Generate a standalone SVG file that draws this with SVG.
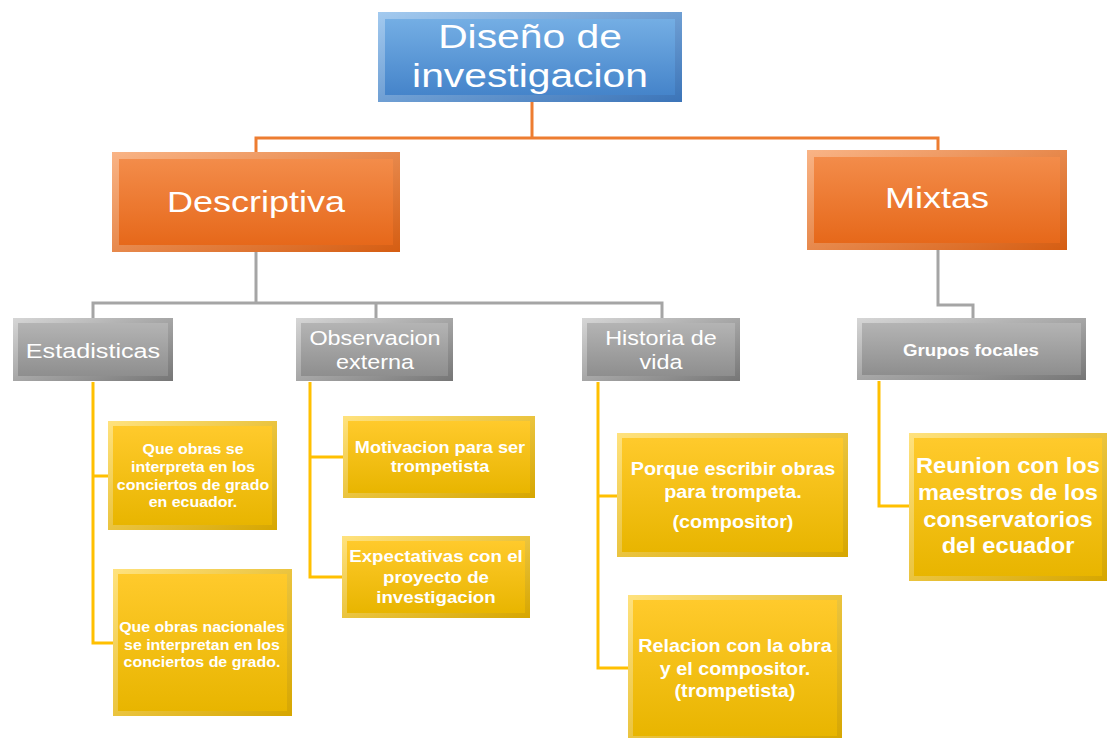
<svg xmlns="http://www.w3.org/2000/svg" width="1109" height="738" viewBox="0 0 1109 738">
<defs>
<linearGradient id="blueMain" x1="0" y1="0" x2="0" y2="1"><stop offset="0" stop-color="#74aee4"/><stop offset="1" stop-color="#4584ca"/></linearGradient>
<linearGradient id="blueFrame" x1="0" y1="0" x2="1" y2="1"><stop offset="0" stop-color="#a3caef"/><stop offset="1" stop-color="#3b74b8"/></linearGradient>
<linearGradient id="orangeMain" x1="0" y1="0" x2="0" y2="1"><stop offset="0" stop-color="#f38c4a"/><stop offset="1" stop-color="#e6681a"/></linearGradient>
<linearGradient id="orangeFrame" x1="0" y1="0" x2="1" y2="1"><stop offset="0" stop-color="#f9b486"/><stop offset="1" stop-color="#d55d12"/></linearGradient>
<linearGradient id="grayMain" x1="0" y1="0" x2="0" y2="1"><stop offset="0" stop-color="#b4b4b4"/><stop offset="1" stop-color="#8e8e8e"/></linearGradient>
<linearGradient id="grayFrame" x1="0" y1="0" x2="1" y2="1"><stop offset="0" stop-color="#d6d6d6"/><stop offset="1" stop-color="#767676"/></linearGradient>
<linearGradient id="yellowMain" x1="0" y1="0" x2="0" y2="1"><stop offset="0" stop-color="#ffca2c"/><stop offset="1" stop-color="#e8b500"/></linearGradient>
<linearGradient id="yellowFrame" x1="0" y1="0" x2="1" y2="1"><stop offset="0" stop-color="#ffe27e"/><stop offset="1" stop-color="#d6a600"/></linearGradient>
</defs>
<style>
.t{font-family:"Liberation Sans",Arial,sans-serif;fill:#ffffff;text-anchor:middle}
.b{font-weight:bold}
.co{fill:none;stroke:#ed7d31;stroke-width:3}
.cg{fill:none;stroke:#a5a5a5;stroke-width:3}
.cy{fill:none;stroke:#ffc000;stroke-width:3}
</style>
<rect width="1109" height="738" fill="#ffffff"/>
<g id="connectors">
<path class="co" d="M532,102 V138 M256,152 V138 H938 V150"/>
<path class="cg" d="M256,252 V303 M93,318 V303 H662 V318 M376,303 V318 M938,250 V305 H973 V318"/>
<path class="cy" d="M93,382 V643 H113 M93,476 H108 M310,382 V577 H342 M310,457 H343 M598,382 V668 H628 M598,496 H617 M879,381 V506 H909"/>
</g>
<g id="n-diseno">
<rect x="378" y="12" width="304" height="90" fill="url(#blueFrame)"/>
<rect x="385" y="19" width="290" height="76" fill="url(#blueMain)"/>
<g class="t" font-size="34" transform="matrix(1.2 0 0 1 -106 0)">
<text x="530" y="48">Diseño de</text>
<text x="530" y="87">investigacion</text>
</g>
</g>
<g id="n-descriptiva">
<rect x="112" y="152" width="288" height="100" fill="url(#orangeFrame)"/>
<rect x="119" y="159" width="274" height="86" fill="url(#orangeMain)"/>
<text class="t" font-size="30" x="256" y="212" transform="matrix(1.2 0 0 1 -51.2 0)">Descriptiva</text>
</g>
<g id="n-mixtas">
<rect x="807" y="150" width="260" height="100" fill="url(#orangeFrame)"/>
<rect x="814" y="157" width="246" height="86" fill="url(#orangeMain)"/>
<text class="t" font-size="30" x="937" y="208" transform="matrix(1.2 0 0 1 -187.4 0)">Mixtas</text>
</g>
<g id="n-estadisticas">
<rect x="13" y="318" width="160" height="63" fill="url(#grayFrame)"/>
<rect x="18" y="323" width="150" height="53" fill="url(#grayMain)"/>
<text class="t" font-size="21" x="93" y="358" transform="matrix(1.2 0 0 1 -18.6 0)">Estadisticas</text>
</g>
<g id="n-observacion">
<rect x="296" y="318" width="157" height="63" fill="url(#grayFrame)"/>
<rect x="301" y="323" width="147" height="53" fill="url(#grayMain)"/>
<g class="t" font-size="19.5" transform="matrix(1.2 0 0 1 -75 0)">
<text x="375" y="345">Observacion</text>
<text x="375" y="369">externa</text>
</g>
</g>
<g id="n-historia">
<rect x="582" y="318" width="158" height="63" fill="url(#grayFrame)"/>
<rect x="587" y="323" width="148" height="53" fill="url(#grayMain)"/>
<g class="t" font-size="19.5" transform="matrix(1.2 0 0 1 -132.2 0)">
<text x="661" y="345">Historia de</text>
<text x="661" y="369">vida</text>
</g>
</g>
<g id="n-grupos">
<rect x="857" y="318" width="229" height="62" fill="url(#grayFrame)"/>
<rect x="862" y="323" width="219" height="52" fill="url(#grayMain)"/>
<text class="t b" font-size="17" x="971" y="356" transform="matrix(1.1 0 0 1 -97.1 0)">Grupos focales</text>
</g>
<g id="n-que-obras">
<rect x="108" y="421" width="169" height="109" fill="url(#yellowFrame)"/>
<rect x="113" y="426" width="159" height="99" fill="url(#yellowMain)"/>
<g class="t b" font-size="14.5" transform="matrix(1.1 0 0 1 -19.3 0)">
<text x="193" y="454">Que obras se</text>
<text x="193" y="472">interpreta en los</text>
<text x="193" y="490">conciertos de grado</text>
<text x="193" y="507">en ecuador.</text>
</g>
</g>
<g id="n-nacionales">
<rect x="113" y="569" width="179" height="147" fill="url(#yellowFrame)"/>
<rect x="118" y="574" width="169" height="137" fill="url(#yellowMain)"/>
<g class="t b" font-size="14.5" transform="matrix(1.1 0 0 1 -20.2 0)">
<text x="202" y="632">Que obras nacionales</text>
<text x="202" y="650">se interpretan en los</text>
<text x="202" y="667">conciertos de grado.</text>
</g>
</g>
<g id="n-motivacion">
<rect x="343" y="416" width="192" height="82" fill="url(#yellowFrame)"/>
<rect x="348" y="421" width="182" height="72" fill="url(#yellowMain)"/>
<g class="t b" font-size="16.5" transform="matrix(1.1 0 0 1 -44 0)">
<text x="440" y="453">Motivacion para ser</text>
<text x="440" y="472">trompetista</text>
</g>
</g>
<g id="n-expectativas">
<rect x="342" y="536" width="188" height="82" fill="url(#yellowFrame)"/>
<rect x="347" y="541" width="178" height="72" fill="url(#yellowMain)"/>
<g class="t b" font-size="17" transform="matrix(1.1 0 0 1 -43.6 0)">
<text x="436" y="562">Expectativas con el</text>
<text x="436" y="583">proyecto de</text>
<text x="436" y="603">investigacion</text>
</g>
</g>
<g id="n-porque">
<rect x="617" y="433" width="231" height="124" fill="url(#yellowFrame)"/>
<rect x="622" y="438" width="221" height="114" fill="url(#yellowMain)"/>
<g class="t b" font-size="18" transform="matrix(1.1 0 0 1 -73.3 0)">
<text x="733" y="475">Porque escribir obras</text>
<text x="733" y="498">para trompeta.</text>
<text x="733" y="528">(compositor)</text>
</g>
</g>
<g id="n-relacion">
<rect x="628" y="595" width="214" height="146" fill="url(#yellowFrame)"/>
<rect x="633" y="600" width="204" height="136" fill="url(#yellowMain)"/>
<g class="t b" font-size="18" transform="matrix(1.1 0 0 1 -73.5 0)">
<text x="735" y="652">Relacion con la obra</text>
<text x="735" y="675">y el compositor.</text>
<text x="735" y="697">(trompetista)</text>
</g>
</g>
<g id="n-reunion">
<rect x="909" y="433" width="198" height="148" fill="url(#yellowFrame)"/>
<rect x="914" y="438" width="188" height="138" fill="url(#yellowMain)"/>
<g class="t b" font-size="21.5" transform="matrix(1.1 0 0 1 -100.8 0)">
<text x="1008" y="473">Reunion con los</text>
<text x="1008" y="500">maestros de los</text>
<text x="1008" y="527">conservatorios</text>
<text x="1008" y="553">del ecuador</text>
</g>
</g>
</svg>
